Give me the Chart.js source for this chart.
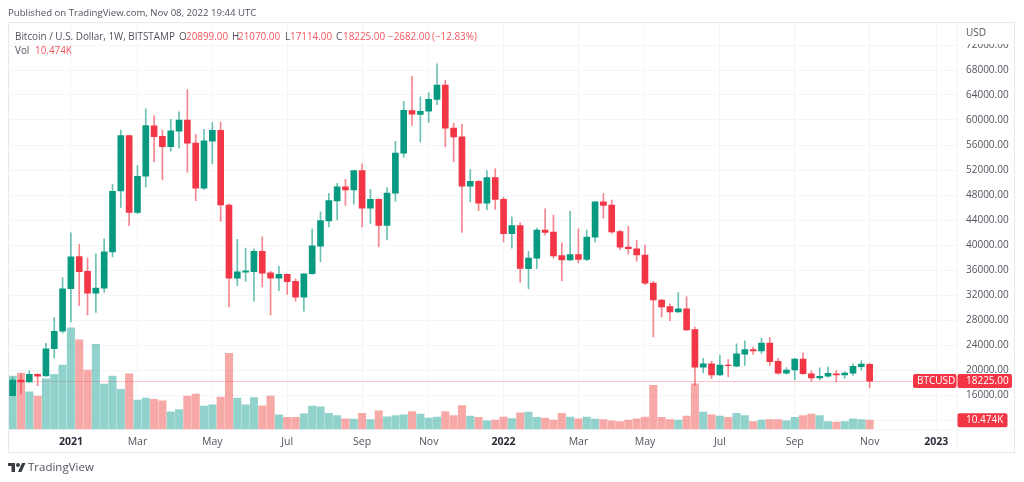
<!DOCTYPE html>
<html>
<head>
<meta charset="utf-8">
<title>BTCUSD</title>
<script src="https://cdn.jsdelivr.net/npm/chart.js@4"></script>
<style>
    html, body { margin: 0; padding: 0; background: #fff; }
    body { width: 1024px; height: 482px; position: relative; overflow: hidden; font-family: "Open Sans", sans-serif; color: #50535e; }
    canvas { position: absolute; left: 0; top: 0; }
    .txt { position: absolute; font-size: 9.9px; line-height: 12px; white-space: nowrap; }
    .red { color: #f4565f; }
    #published { left: 8px; top: 7px; font-size: 9.6px; }
    #brand { left: 28px; top: 460px; font-size: 11.5px; line-height: 14px; }
    #logo { position: absolute; left: 8px; top: 463px; }
</style>
</head>
<body>
<canvas id="chart" width="1024" height="482"></canvas>
<div class="txt" id="published">Published on TradingView.com, Nov 08, 2022 19:44 UTC</div>
<div class="txt" style="left:15px;top:30px">Bitcoin / U.S. Dollar, 1W, BITSTAMP</div>
<div class="txt" style="left:179px;top:30px">O</div>
<div class="txt red" style="left:186px;top:30px">20899.00</div>
<div class="txt" style="left:232px;top:30px">H</div>
<div class="txt red" style="left:238px;top:30px">21070.00</div>
<div class="txt" style="left:285px;top:30px">L</div>
<div class="txt red" style="left:290px;top:30px">17114.00</div>
<div class="txt" style="left:336px;top:30px">C</div>
<div class="txt red" style="left:343px;top:30px">18225.00</div>
<div class="txt red" style="left:388px;top:30px">−2682.00</div>
<div class="txt red" style="left:432px;top:30px">(−12.83%)</div>
<div class="txt" style="left:15px;top:44px">Vol</div>
<div class="txt red" style="left:35px;top:44px">10.474K</div>
<svg id="logo" width="18" height="9" viewBox="0 0 36 18"><path fill="#3a3d47" d="M14 18H7V6H0V0h14zM35 0l-8 18h-7l8-18z"/><circle fill="#3a3d47" cx="20" cy="4" r="4"/></svg>
<div class="txt" id="brand">TradingView</div>

<script>
// weekly candles
const opens = [
    15900, 18400, 18100, 19300, 19050, 23400, 26200, 33000, 38150, 35800,
    32300, 33100, 38900, 48650, 57500, 45200, 51000, 59050, 57400, 55750,
    58200, 60000, 56300, 49100, 56600, 58350, 46400, 34700, 35650, 35750,
    39000, 35550, 34700, 35300, 34200, 31650, 35400, 39800, 43850, 47050,
    49300, 48800, 51900, 45900, 47300, 43150, 48300, 54700, 61500, 60900,
    61400, 63300, 65600, 58700, 57300, 49400, 50200, 46700, 50800, 47300,
    41800, 43100, 36200, 37900, 42400, 42050, 38300, 37600, 38450, 37700,
    41250, 46900, 46400, 42150, 39650, 39400, 38400, 33900, 31200, 30150,
    29300, 29800, 26450, 20450, 21000, 19200, 20800, 20600, 22550, 23250,
    23050, 24300, 21400, 19500, 20000, 21750, 19400, 18750, 19000, 19400,
    19200, 19500, 20550, 20899
];
const highs = [
    18800, 19400, 19850, 19400, 24250, 28400, 34800, 41950, 40100, 37900,
    38600, 41000, 49700, 58350, 57550, 52700, 61800, 60700, 58400, 60100,
    61300, 64900, 57700, 58500, 59600, 59650, 46600, 40900, 39500, 39400,
    41300, 35800, 36600, 35400, 34600, 35400, 42550, 45300, 48250, 49850,
    50500, 52000, 53000, 48900, 47400, 49200, 56600, 63000, 67000, 63700,
    64400, 69000, 66400, 59500, 59300, 52100, 50300, 51900, 52200, 47650,
    44500, 43550, 39000, 42700, 45800, 44800, 40350, 45400, 42600, 42400,
    46950, 48250, 47200, 42400, 43000, 40800, 40000, 34200, 31300, 30600,
    32400, 31700, 26850, 21850, 21400, 22400, 21650, 24200, 24650, 23650,
    25100, 25200, 21850, 20400, 21850, 22750, 19850, 20350, 20450, 19950,
    19750, 21000, 21450, 21070
];
const lows = [
    15800, 16200, 18000, 17500, 19000, 21900, 25900, 27700, 30300, 28800,
    29200, 32400, 38100, 46000, 43100, 45000, 49300, 53300, 50400, 55000,
    55500, 51600, 47100, 48900, 53000, 43800, 30100, 33500, 34200, 31000,
    33300, 28800, 32700, 32100, 31000, 29400, 35300, 37300, 42900, 44000,
    46350, 46550, 42900, 43450, 39700, 40800, 47000, 54000, 59150, 56500,
    59600, 62450, 55700, 53300, 42000, 46900, 45500, 45600, 45700, 40500,
    39500, 34000, 33000, 36200, 41600, 37900, 34300, 37500, 37150, 37500,
    40500, 44300, 41850, 39200, 38550, 37400, 33650, 25300, 28500, 27900,
    29200, 26300, 17550, 19550, 18600, 19100, 18950, 20500, 20750, 22500,
    22650, 20750, 19350, 19350, 18400, 19300, 18200, 18400, 18850, 18100,
    18650, 19150, 20000, 17114
];
const closes = [
    18400, 18100, 19300, 19000, 23400, 26200, 33000, 38100, 35750, 32300,
    33100, 38900, 48600, 57500, 45200, 51000, 59100, 57350, 55750, 58250,
    60000, 56300, 49100, 56650, 58350, 46400, 34700, 35700, 35850, 39000,
    35500, 34700, 35300, 34150, 31650, 35400, 39850, 43900, 47100, 49300,
    48800, 51900, 45900, 47300, 43150, 48300, 54700, 61550, 60950, 61400,
    63300, 65600, 58700, 57300, 49400, 50200, 46700, 50800, 47300, 41800,
    43100, 36250, 37900, 42400, 42000, 38250, 37600, 38450, 37700, 41250,
    46900, 46350, 42100, 39650, 39400, 38400, 33900, 31200, 30100, 29300,
    29800, 26400, 20450, 21000, 19200, 20800, 20700, 22600, 23250, 23050,
    24300, 21350, 19500, 20000, 21750, 19400, 18750, 19000, 19450, 19200,
    19500, 20600, 20950, 18225
];
// volume in thousands
const volumes = [
    59.8, 63.2, 42.3, 37.4, 56.8, 61.7, 72.2, 114, 100.6, 66.6,
    95.4, 50.9, 59.8, 44.9, 62.5, 32.9, 35.2, 33.7, 32.2, 19.8,
    22.4, 37.4, 39.6, 26.2, 27.7, 36.3, 85.3, 35.2, 27.7, 35.9,
    26.6, 37.4, 16.5, 13.5, 13.5, 17.6, 26.2, 25.4, 18, 15.7,
    12, 11.6, 18, 11.2, 20.9, 14.2, 15.7, 16.5, 20.2, 17.2,
    12.7, 13.8, 20.2, 15.7, 26.9, 15, 13.5, 9.7, 10.5, 13.8,
    12.3, 18.7, 19.4, 13.5, 12.7, 10.5, 18, 13.8, 12, 13.8,
    11.6, 11.2, 9.7, 9, 10.5, 12, 13.8, 49.4, 13.5, 11.2,
    10.5, 15, 51.2, 19.4, 16.5, 15, 13.5, 18, 15.7, 9,
    10.5, 11.2, 11.2, 9.7, 13.5, 15.7, 17.2, 15.7, 9, 8.2,
    9, 12, 11.2, 10.474
];
const priceTicks = [12000, 16000, 20000, 24000, 28000, 32000, 36000, 40000, 44000, 48000, 52000, 56000, 60000, 64000, 68000, 72000];
const tickWeeks = [7, 15, 24, 33, 42, 50, 59, 68, 76, 85, 94, 103, 111];
const tickNames = ['2021', 'Mar', 'May', 'Jul', 'Sep', 'Nov', '2022', 'Mar', 'May', 'Jul', 'Sep', 'Nov', '2023'];
const lastPrice = 18225;
const lastVolume = 10.474;

const UP = '#089981';
const DOWN = '#f23645';
const FONT = '"Open Sans", sans-serif';

// one slot per week, the axis runs on past the last candle
const weeks = [];
for (let i = 0; i < 114; i++) {
    weeks.push(new Date(Date.UTC(2020, 10, 16 + i * 7)).toISOString().slice(0, 10));
}

const isUp = opens.map((o, i) => closes[i] >= o);

// price line, frame, and the labels on the right
const overlay = {
    id: 'overlay',
    beforeDatasetsDraw(chart) {
        const { ctx, chartArea, scales } = chart;
        const y = Math.round(scales.y.getPixelForValue(lastPrice));
        ctx.save();
        // pale pink base with faint dots, it reads pink rather than grey
        ctx.fillStyle = 'rgba(242,54,69,0.2)';
        ctx.fillRect(chartArea.left, y, chartArea.width, 1);
        ctx.fillStyle = 'rgba(242,54,69,0.2)';
        for (let x = chartArea.left; x < chartArea.right; x += 2) {
            ctx.fillRect(Math.round(x), y, 1, 1);
        }
        ctx.restore();
    },
    afterDraw(chart) {
        const { ctx, chartArea, scales } = chart;
        const right = chartArea.right;
        const y = scales.y.getPixelForValue(lastPrice);
        const yVol = scales.vol.getPixelForValue(lastVolume);

        ctx.save();
        // frame
        ctx.strokeStyle = '#e6e9f0';
        ctx.lineWidth = 1;
        ctx.strokeRect(8.5, 22.5, 1006, 430);
        ctx.strokeStyle = '#f0f3fa';
        ctx.beginPath();
        ctx.moveTo(8.5, chartArea.bottom + 0.5);
        ctx.lineTo(1014.5, chartArea.bottom + 0.5);
        ctx.moveTo(right + 0.5, 22.5);
        ctx.lineTo(right + 0.5, 452.5);
        ctx.stroke();

        // USD sits on a white patch that cuts the top tick
        ctx.fillStyle = '#fff';
        ctx.fillRect(right + 2, 23, 54, 21);
        ctx.fillStyle = '#50535e';
        ctx.font = '10px ' + FONT;
        ctx.textAlign = 'left';
        ctx.textBaseline = 'middle';
        ctx.fillText('USD', 966, 33.5);

        // last price and last volume boxes
        ctx.fillStyle = DOWN;
        ctx.beginPath();
        ctx.roundRect(right - 44, y - 7, 43.5, 14, 2);
        ctx.roundRect(right + 0.5, y - 7, 54.5, 14, 2);
        ctx.roundRect(right + 0.5, yVol - 7, 50, 14, 2);
        ctx.fill();
        ctx.fillStyle = '#fff';
        ctx.font = '10px ' + FONT;
        ctx.fillText('BTCUSD', right - 40, y);
        ctx.fillText('18225.00', 966, y);
        ctx.fillText('10.474K', 966, yVol);
        ctx.restore();
    }
};

new Chart(document.getElementById('chart'), {
    type: 'bar',
    data: {
        labels: weeks,
        datasets: [
            {
                label: 'body',
                data: opens.map((o, i) => [Math.min(o, closes[i]), Math.max(o, closes[i])]),
                backgroundColor: isUp.map(u => u ? UP : DOWN),
                barThickness: 6,
                grouped: false,
                order: 1
            },
            {
                label: 'wick',
                data: lows.map((l, i) => [l, highs[i]]),
                backgroundColor: isUp.map(u => u ? 'rgba(8,153,129,0.6)' : 'rgba(242,54,69,0.6)'),
                barThickness: 1,
                grouped: false,
                order: 2
            },
            {
                label: 'Vol',
                data: volumes,
                yAxisID: 'vol',
                backgroundColor: isUp.map(u => u ? 'rgba(38,166,154,0.5)' : 'rgba(239,83,80,0.5)'),
                barThickness: 7.4,
                grouped: false,
                order: 3
            }
        ]
    },
    plugins: [overlay],
    options: {
        responsive: false,
        animation: false,
        layout: { padding: { left: 8.5, right: 9, top: 22.5, bottom: 29 } },
        plugins: { legend: { display: false }, tooltip: { enabled: false } },
        scales: {
            x: {
                afterBuildTicks: s => { s.ticks = s.ticks.filter(t => tickWeeks.includes(t.value)); },
                afterFit: s => { s.height = 23.5; },
                border: { display: false },
                grid: { color: '#f4f5f9', offset: false, drawTicks: false },
                ticks: {
                    autoSkip: false,
                    maxRotation: 0,
                    padding: 6,
                    color: ctx => /^\d/.test(tickNames[tickWeeks.indexOf(ctx.tick.value)]) ? '#2a2e39' : '#50535e',
                    font: ctx => ({
                        family: FONT,
                        size: 10.5,
                        weight: /^\d/.test(tickNames[tickWeeks.indexOf(ctx.tick.value)]) ? 'bold' : 'normal'
                    }),
                    callback: value => tickNames[tickWeeks.indexOf(value)]
                }
            },
            y: {
                position: 'right',
                min: 10480,
                max: 75600,
                afterBuildTicks: s => { s.ticks = priceTicks.map(v => ({ value: v })); },
                afterFit: s => { s.width = 58; },
                border: { display: false },
                grid: { color: '#f4f5f9', drawTicks: false },
                ticks: {
                    padding: 9,
                    color: '#50535e',
                    font: { family: FONT, size: 10 },
                    callback: v => v < 16000 ? '' : v.toFixed(2)
                }
            },
            vol: {
                display: false,
                min: 0,
                max: 456
            }
        }
    }
});
</script>
</body>
</html>
